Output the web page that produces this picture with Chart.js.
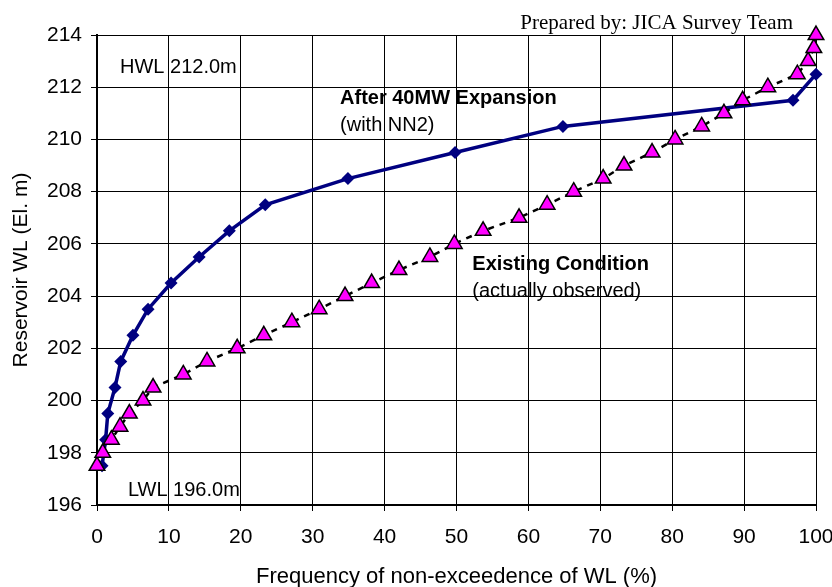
<!DOCTYPE html>
<html>
<head>
<meta charset="utf-8">
<script src="https://cdn.jsdelivr.net/npm/chart.js@4"></script>
<style>
  body { margin: 0; background: #fff; }
  #wrap { width: 832px; height: 587px; }
</style>
</head>
<body>
<div id="wrap"><canvas id="chart" width="832" height="587"></canvas></div>
<script>
// After 40MW Expansion (with NN2)
const afterFreq = [0.7, 1.2, 1.5, 2.5, 3.3, 5.0, 7.1, 10.3, 14.2, 18.4, 23.4, 34.9, 49.8, 64.8, 96.8, 100];
const afterWL   = [197.5, 198.5, 199.5, 200.5, 201.5, 202.5, 203.5, 204.5, 205.5, 206.5, 207.5, 208.5, 209.5, 210.5, 211.5, 212.5];

// Existing condition (actually observed)
const existFreq = [0, 0.8, 2.0, 3.2, 4.5, 6.4, 7.8, 12.0, 15.3, 19.5, 23.2, 27.1, 30.9, 34.5, 38.2, 42.0, 46.3, 49.7,
                   53.7, 58.7, 62.6, 66.3, 70.4, 73.3, 77.2, 80.4, 84.1, 87.2, 89.8, 93.3, 97.4, 98.9, 99.7, 100];
const existWL   = [197.5, 198, 198.5, 199, 199.5, 200, 200.5, 201, 201.5, 202, 202.5, 203, 203.5, 204, 204.5, 205, 205.5, 206,
                   206.5, 207, 207.5, 208, 208.5, 209, 209.5, 210, 210.5, 211, 211.5, 212, 212.5, 213, 213.5, 214];

const xTitle = "Frequency of non-exceedence of WL (%)";
const yTitle = "Reservoir WL (El. m)";

const sans = "'Liberation Sans', Arial, sans-serif";

function toPoints(xs, ys) {
  return xs.map((x, i) => ({ x: x, y: ys[i] }));
}

// text labels placed in data coordinates
const notes = [
  { text: "HWL 212.0m", x: 3.2, y: 212.74, font: "20px " + sans },
  { text: "LWL 196.0m", x: 4.3, y: 196.57, font: "20px " + sans },
  { text: "After 40MW Expansion", x: 33.8, y: 211.55, font: "bold 20px " + sans },
  { text: "(with NN2)", x: 33.8, y: 210.55, font: "20px " + sans },
  { text: "Existing Condition", x: 52.2, y: 205.2, font: "bold 20px " + sans },
  { text: "(actually observed)", x: 52.2, y: 204.18, font: "20px " + sans }
];

const notesPlugin = {
  id: "notes",
  afterDatasetsDraw(chart) {
    let ctx = chart.ctx;
    let xs = chart.scales.x, ys = chart.scales.y;
    ctx.save();
    ctx.fillStyle = "#000";
    ctx.textBaseline = "middle";
    ctx.textAlign = "left";
    notes.forEach((n) => {
      ctx.font = n.font;
      ctx.fillText(n.text, xs.getPixelForValue(n.x), ys.getPixelForValue(n.y));
    });
    ctx.font = "21px 'Liberation Serif', 'Times New Roman', serif";
    ctx.textAlign = "right";
    ctx.fillText("Prepared by: JICA Survey Team", 793, 23);
    ctx.restore();
  }
};

let lineChart = new Chart(document.getElementById("chart"), {
  type: "scatter",
  data: {
    datasets: [
      {
        label: "After 40MW Expansion",
        data: toPoints(afterFreq, afterWL),
        showLine: true,
        borderColor: "#000080",
        backgroundColor: "#000080",
        borderWidth: 3.5,
        pointStyle: "rectRot",
        pointRadius: 6.5,
        pointBorderWidth: 0,
        clip: false,
        order: 1
      },
      {
        label: "Existing Condition",
        data: toPoints(existFreq, existWL),
        showLine: true,
        borderColor: "#000",
        borderWidth: 2.5,
        borderDash: [6, 6],
        pointStyle: "triangle",
        pointRadius: 9,
        pointBackgroundColor: "#FF00FF",
        pointBorderColor: "#000",
        pointBorderWidth: 1.5,
        clip: false,
        order: 0
      }
    ]
  },
  options: {
    responsive: false,
    animation: false,
    layout: { padding: { top: 35, right: 16, left: 0, bottom: 0 } },
    plugins: {
      legend: { display: false },
      tooltip: { enabled: false }
    },
    scales: {
      x: {
        type: "linear",
        min: 0,
        max: 100,
        ticks: { stepSize: 10, color: "#000", font: { family: sans, size: 21 }, padding: 14 },
        grid: { color: "#000", lineWidth: 1, tickLength: 6 },
        border: { color: "#000", width: 2 },
        title: { display: true, text: xTitle, color: "#000", font: { family: sans, size: 22 }, padding: { top: 0, bottom: -3 } },
        afterFit: (axis) => { axis.height = 82; axis.paddingLeft = 0; axis.paddingRight = 0; }
      },
      y: {
        min: 196,
        max: 214,
        ticks: { stepSize: 2, color: "#000", font: { family: sans, size: 21 }, padding: 9 },
        grid: { color: "#000", lineWidth: 1, tickLength: 6 },
        border: { color: "#000", width: 2 },
        title: { display: true, text: yTitle, color: "#000", font: { family: sans, size: 21 }, padding: { top: 9, bottom: 0 } },
        afterFit: (axis) => { axis.width = 97; axis.paddingTop = 0; axis.paddingBottom = 0; }
      }
    }
  },
  plugins: [notesPlugin]
});
</script>
</body>
</html>
